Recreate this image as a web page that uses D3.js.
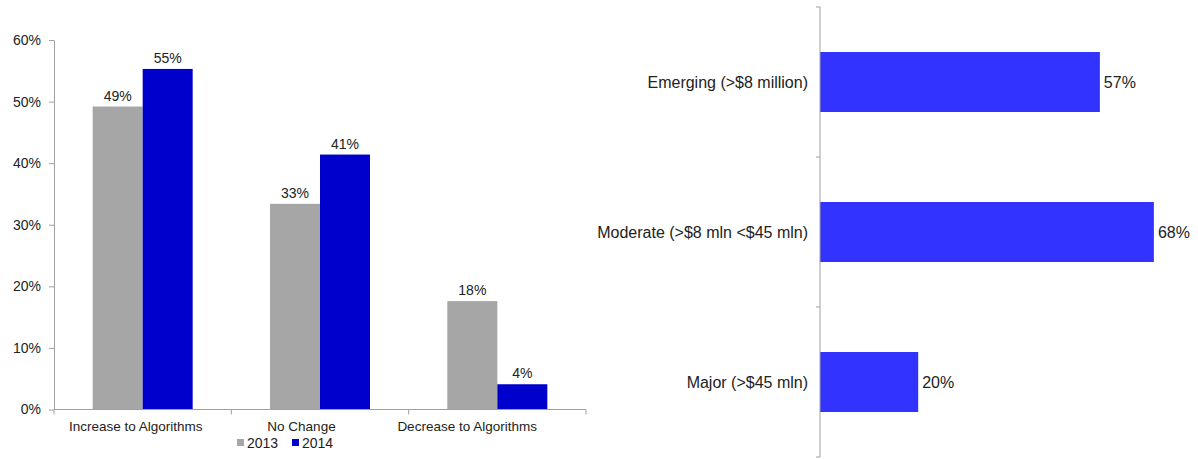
<!DOCTYPE html>
<html>
<head>
<meta charset="utf-8">
<script src="https://cdn.jsdelivr.net/npm/d3@7"></script>
<style>
  html, body { margin: 0; padding: 0; background: #fff; }
  svg { display: block; font-family: "Liberation Sans", Arial, sans-serif; }
</style>
</head>
<body>
<svg id="chart" width="1198" height="459"></svg>
<script>
// ---- Data ----
const changeCategories = ["Increase to Algorithms", "No Change", "Decrease to Algorithms"];
const seriesNames = ["2013", "2014"];
const values2013 = [0.492, 0.334, 0.176];
const values2014 = [0.553, 0.414, 0.041];
const yTicks = [0, 0.1, 0.2, 0.3, 0.4, 0.5, 0.6];

const sizeCategories = ["Emerging (>$8 million)", "Moderate (>$8 mln <$45 mln)", "Major (>$45 mln)"];
const sizeValues = [0.57, 0.68, 0.20];

// ---- Styles ----
const colors = { "2013": "#A6A6A6", "2014": "#0000CC" };
const rightColor = "#3333FF";
const axisColor = "#A0A0A0";
const textColor = "#222";
const fmt = d3.format(".0%");

const svg = d3.select("#chart");

// ---- Left chart ----
const L = { x0: 54, x1: 586, y0: 409.5, y1: 40 };
const gL = svg.append("g");
const x0 = d3.scaleBand().domain(changeCategories).range([L.x0, L.x1]).paddingInner(0).paddingOuter(0);
const xLabel = d3.scaleBand().domain(changeCategories).range([53, 550]);
const y = d3.scaleLinear().domain([0, 0.6]).range([L.y0, L.y1]);
const groupW = 100;
const x1 = d3.scaleBand().domain(seriesNames).range([0, groupW]);

const data = changeCategories.map((c, i) => ({ cat: c, vals: [
  { s: "2013", v: values2013[i] }, { s: "2014", v: values2014[i] }
]}));

const groups = gL.selectAll("g.grp").data(data).enter().append("g")
  .attr("transform", d => `translate(${x0(d.cat) + x0.bandwidth() / 2 - groupW / 2},0)`);
groups.selectAll("rect").data(d => d.vals).enter().append("rect")
  .attr("x", d => x1(d.s)).attr("width", x1.bandwidth())
  .attr("y", d => y(d.v)).attr("height", d => y(0) - y(d.v))
  .attr("fill", d => colors[d.s]);
groups.selectAll("text").data(d => d.vals).enter().append("text")
  .attr("x", d => x1(d.s) + x1.bandwidth() / 2).attr("y", d => y(d.v) - 6)
  .attr("text-anchor", "middle").attr("font-size", 14).attr("fill", textColor)
  .text(d => fmt(d.v));

// y axis
const yAxis = gL.append("g").attr("transform", `translate(${L.x0},0)`)
  .call(d3.axisLeft(y).tickValues(yTicks).tickFormat(fmt).tickSize(5).tickSizeOuter(0));
yAxis.select(".domain").attr("stroke", axisColor);
yAxis.selectAll(".tick line").attr("stroke", axisColor);
yAxis.selectAll(".tick text").attr("font-size", 14).attr("fill", textColor)
  .attr("font-family", "Liberation Sans, Arial, sans-serif").attr("x", -13);

// x axis
const xAxisG = gL.append("g").attr("transform", `translate(0,${L.y0})`);
xAxisG.append("line").attr("x1", L.x0).attr("x2", L.x1).attr("y1", 0).attr("y2", 0).attr("stroke", axisColor);
const bounds = changeCategories.map(c => x0(c)).concat([L.x1]);
xAxisG.selectAll("line.tk").data(bounds).enter().append("line").attr("class", "tk")
  .attr("x1", d => d).attr("x2", d => d).attr("y1", 0).attr("y2", 5).attr("stroke", axisColor);
xAxisG.selectAll("text").data(changeCategories).enter().append("text")
  .attr("x", d => xLabel(d) + xLabel.bandwidth() / 2).attr("y", 21.5)
  .attr("text-anchor", "middle").attr("font-size", 13.5).attr("fill", textColor)
  .text(d => d);

// legend
const legendItems = [{ s: "2013", x: 237 }, { s: "2014", x: 292 }];
const lg = gL.selectAll("g.lg").data(legendItems).enter().append("g")
  .attr("transform", d => `translate(${d.x},442)`);
lg.append("rect").attr("x", 0).attr("y", -3).attr("width", 7).attr("height", 7).attr("fill", d => colors[d.s]);
lg.append("text").attr("x", 10).attr("y", 5.5).attr("font-size", 14).attr("fill", textColor).text(d => d.s);

// ---- Right chart ----
const R = { x0: 820, top: 7, bottom: 457 };
const gR = svg.append("g");
const yb = d3.scaleBand().domain(sizeCategories).range([R.top, R.bottom]).paddingInner(0.6).paddingOuter(0.3);
const yBand = d3.scaleBand().domain(sizeCategories).range([R.top, R.bottom]);
const xr = d3.scaleLinear().domain([0, 1]).range([R.x0, R.x0 + 491]);

gR.selectAll("rect").data(sizeCategories).enter().append("rect")
  .attr("x", R.x0).attr("y", d => yb(d)).attr("height", yb.bandwidth())
  .attr("width", (d, i) => xr(sizeValues[i]) - R.x0).attr("fill", rightColor);
gR.selectAll("text.val").data(sizeCategories).enter().append("text").attr("class", "val")
  .attr("x", (d, i) => xr(sizeValues[i]) + 4).attr("y", d => yb(d) + yb.bandwidth() / 2 + 5.5)
  .attr("font-size", 16).attr("fill", textColor).text((d, i) => fmt(sizeValues[i]));
gR.selectAll("text.cat").data(sizeCategories).enter().append("text").attr("class", "cat")
  .attr("x", R.x0 - 12).attr("y", d => yb(d) + yb.bandwidth() / 2 + 5.5)
  .attr("text-anchor", "end").attr("font-size", 16).attr("fill", textColor).text(d => d);

gR.append("line").attr("x1", R.x0).attr("x2", R.x0).attr("y1", R.top).attr("y2", R.bottom).attr("stroke", axisColor);
const rb = sizeCategories.map(c => yBand(c)).concat([R.bottom]);
gR.selectAll("line.tk").data(rb).enter().append("line").attr("class", "tk")
  .attr("x1", R.x0 - 4).attr("x2", R.x0).attr("y1", d => d).attr("y2", d => d).attr("stroke", axisColor);
</script>
</body>
</html>
